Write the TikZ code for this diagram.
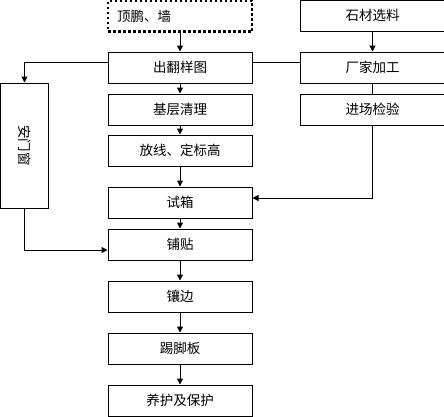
\documentclass[tikz,border=0pt]{standalone}
\usepackage{fontspec}
\setmainfont{Noto Sans CJK SC}
\usetikzlibrary{arrows.meta}
\begin{document}
\begin{tikzpicture}[x=1pt,y=-1pt,
  box/.style={draw,line width=1pt,minimum width=144pt,minimum height=31pt,inner sep=0pt,font=\fontsize{13.5}{14}\selectfont},
  rbox/.style={box,minimum width=145pt},
  dotbox/.style={box,line width=2.5pt,dash pattern=on 2.5pt off 2.5pt,text width=126pt,align=left,inner xsep=9pt},
  arr/.style={line width=1pt,-{Triangle[length=6pt,width=6pt]}},
  ln/.style={line width=1pt}]
\useasboundingbox (0,0) rectangle (444,416);
\clip (0,0) rectangle (444,416);
\fill[white] (0,0) rectangle (444,416);
\node[dotbox] (ding) at (180,16) {顶鹏、墙};
\node[rbox] (shi) at (372.5,15.5) {石材选料};
\node[box] (chu) at (180,67.5) {出翻样图};
\node[rbox] (chang) at (372.5,67.5) {厂家加工};
\node[box] (ji) at (180,109.5) {基层清理};
\node[rbox] (jin) at (372.5,109.5) {进场检验};
\node[box] (fang) at (180,150.5) {放线、定标高};
\node[box] (xiang) at (180,202.5) {试箱};
\node[box] (pu) at (180,244.5) {铺贴};
\node[box] (bian) at (180,296.5) {镶边};
\node[box] (ti) at (180,348.5) {踢脚板};
\node[box] (yang) at (180,400.5) {养护及保护};
\node[box,minimum width=48pt,minimum height=125pt] (an) at (24.5,145.5) {\rotatebox{-90}{安门窗}};
\draw[arr] (ding) -- (chu);
\draw[arr] (shi) -- (chang);
\draw[arr] (chu) -- (ji);
\draw[arr] (ji) -- (fang);
\draw[arr] (fang) -- (xiang);
\draw[arr] (xiang) -- (pu);
\draw[arr] (pu) -- (bian);
\draw[arr] (bian) -- (ti);
\draw[arr] (ti) -- (yang);
\draw[ln] ([yshift=5.5pt]chu.east) -- ([yshift=5.5pt]chang.west);
\draw[ln] (chang) -- (jin);
\draw[arr] ([yshift=5.5pt]chu.west) -| (an.north);
\draw[arr] (an.south) |- ([yshift=-5.5pt]pu.west);
\draw[arr] (jin.south) |- ([yshift=4.5pt]xiang.east);
\end{tikzpicture}
\end{document}
